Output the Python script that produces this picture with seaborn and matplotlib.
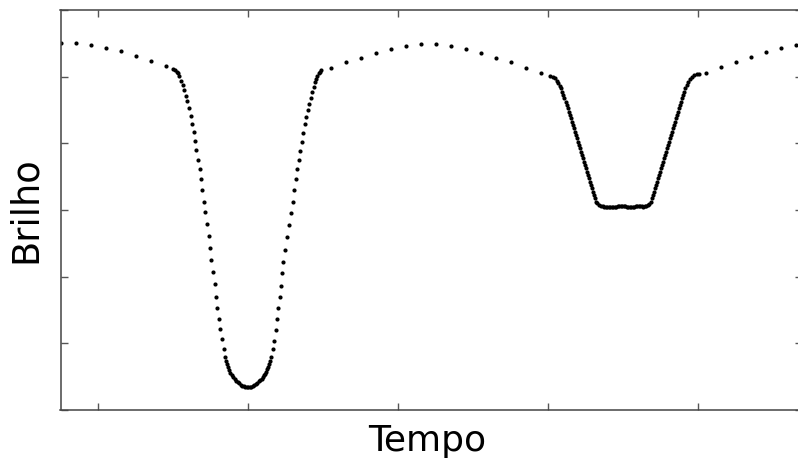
import numpy as np
import pandas as pd
import matplotlib
matplotlib.use("Agg")
import matplotlib.pyplot as plt
import seaborn as sns

sns.set_style("ticks")

# ------------------------------------------------------------------
# light curve (tempo in minutes, brilho in arbitrary units)
# ------------------------------------------------------------------

# out-of-eclipse samples (coarse cadence)
fora_tempo = [-37.3, -22.3, -7.3, 7.7, 22.7, 37.7, 52.7, 67.7,
              232.7, 247.7, 262.7, 277.7, 292.7, 307.7, 322.7, 337.7, 352.7, 367.7,
              382.7, 397.7, 412.7, 427.7, 442.7,
              607.7, 622.7, 637.7, 652.7, 667.7, 682.7, 697.7]
fora_brilho = [366.7, 367, 365, 362, 359, 354, 349, 343.7,
               342, 347.7, 352.3, 357.3, 361.3, 364.3, 365.7, 365.7, 364.3, 361.3,
               357.3, 352.3, 347.7, 342, 336.5,
               337.3, 342.7, 347.7, 353, 357.7, 362, 365]

# primary eclipse (dense cadence)
prim_tempo = [75.3, 77, 78.7, 80, 81.3, 83, 85, 86.3, 88, 89.3, 90.7, 92.7, 94, 95.7, 97, 98.3,
              100.3, 101.7, 103, 104.3, 106, 107.3, 109.3, 110.7, 112, 113.3, 115.3, 116.7, 118,
              119.3, 120.7, 122, 124, 125.7,
              127, 128, 129, 130, 131, 132, 133.5, 135, 136.5, 138, 139.5, 141, 142.5, 144, 145.5,
              147, 148.5, 150, 151.5, 153, 154.5, 156, 157.5, 159, 160.5, 162, 163.5, 165, 166,
              167, 168, 169, 170, 171, 172, 173.3,
              174.7, 176.3, 177.7, 179, 180.3, 181.7, 183, 184, 185, 187, 189, 191.3, 193, 194.7,
              196.3, 197.7, 199, 200.7, 202.3, 203.7, 205.3, 206.7, 208, 210, 211.3, 213, 214.3,
              215.7, 217, 218, 219.3, 220.7, 222, 223.3]
prim_brilho = [341, 340, 338.3, 336.7, 334.3, 329.3, 324.7, 319.7, 314.3, 308.7, 301.7, 294.3, 286.3,
               277.7, 269, 260, 250.3, 240.7, 230.7, 219.7, 208.3, 197.7, 186, 174.3, 162.3, 150.3,
               138, 126, 113.3, 101.7, 90.7, 80.7, 70.7, 61,
               52.7, 48.7, 45.7, 42.7, 40, 37.5, 35.3, 33.2, 31.2, 29.5, 28, 26.7, 25.5, 24.5, 23.8,
               23.3, 23, 22.7, 22.8, 23.2, 23.8, 24.8, 26, 27.3, 28.7, 30, 31.5, 33.2, 34.7,
               36.5, 38.5, 41, 43.5, 46, 49, 52.7,
               61, 69.3, 80, 90.7, 101.7, 112.7, 124.3, 136.7, 148, 160, 173, 185.3, 197, 208.3,
               219.7, 230.7, 241, 250.3, 259.3, 268.3, 277.3, 285.7, 293.3, 300, 306.3, 312.3, 318,
               323.3, 327.7, 331, 334.3, 336.7, 338.3, 339.7]

# secondary eclipse (dense cadence)
sec_tempo = [452, 454.7, 457, 458.7, 460.3, 462, 463.3, 464.3, 465.3, 466.3, 467.7, 468.7, 469.7,
             470.7, 471.7, 472.7, 473.7, 474.7, 475.7, 476.7, 477.7, 478.7, 479.7, 480.7, 481.7,
             482.7, 483.7, 484.7, 485.7, 486.7, 487.7, 488.7, 489.7, 490.7, 491.7, 492.7, 493.7,
             494.7, 495.7, 496.7, 498, 499.3, 501.3, 503,
             504.5, 506, 507.5, 509, 510.5, 512, 513.5, 515, 516.5, 518, 519.5, 521, 522.5, 524,
             525.5, 527, 528.5, 530, 531.5, 533, 534.5, 536, 537.5, 539, 540.5, 542, 543.5, 545,
             546.5, 548, 549.5,
             551.3, 552.7, 554, 555, 556, 557, 558, 559, 560, 561, 562, 563, 564, 565, 566, 567,
             568, 569, 570, 571, 572, 573, 574, 575, 576, 577, 578, 579, 580, 581, 582, 583, 584,
             585, 586, 587.3, 588.7, 590.3, 592, 594, 596.3, 598.7, 601]
sec_brilho = [334.3, 333.3, 331.7, 329.3, 327, 324.3, 321.7, 318.3, 315, 311.7, 308.3, 305, 301.7,
              298.3, 295, 291.7, 288.3, 285, 281.7, 278.3, 275, 271.7, 268.3, 265, 261.7,
              258.3, 255, 251.7, 248.3, 245, 241.7, 238.3, 235, 231.7, 228.3, 225, 221.7,
              218.3, 215, 211.7, 208.3, 206.7, 205, 203.8,
              203.5, 203.2, 203, 202.8, 202.7, 202.7, 202.8, 202.8, 203, 203.2, 203.5, 203.6, 203.8, 204,
              203.9, 203.6, 203.3, 203, 202.8, 202.8, 203, 203.3, 203.6, 203.8, 204, 204, 203.6, 203.3,
              203.5, 204, 205,
              205.7, 208.3, 211.7, 215, 218.3, 221.7, 225, 228.3, 231.7, 235, 238.3, 241.7, 245, 248.3,
              251.7, 255, 258.3, 261.7, 265, 268.3, 271.7, 275, 278.3, 281.7, 285, 288.3, 291.7, 295,
              298.3, 301.7, 305, 308.3, 311.7, 315, 318.3, 321.7, 325, 328.3, 331, 333, 334.7, 335.7,
              336.3]

curva = pd.DataFrame({
    "tempo": fora_tempo + prim_tempo + sec_tempo,
    "brilho": fora_brilho + prim_brilho + sec_brilho,
})

# ------------------------------------------------------------------
# plot
# ------------------------------------------------------------------

fig = plt.figure(figsize=(7.98, 4.61), dpi=100)
ax = fig.add_axes([60.5 / 798, 51 / 461, 741.5 / 798, 400 / 461])

sns.scatterplot(data=curva, x="tempo", y="brilho", color="black", s=9, linewidth=0, ax=ax)

ax.set_xlim(-37.5, 704)
ax.set_ylim(0, 400)
ax.set_xticks([0, 150, 300, 450, 600])
ax.set_yticks(np.linspace(0, 400, 7))
ax.tick_params(direction="in", length=5, width=1, color="#555555",
               top=True, right=True, labelbottom=False, labelleft=False)
for side in ax.spines.values():
    side.set_color("#444444")
    side.set_linewidth(1.1)

ax.set_xlabel("Tempo", fontsize=26, color="black")
ax.set_ylabel("Brilho", fontsize=26.5, color="black")
ax.xaxis.set_label_coords(0.495, -0.035)
ax.yaxis.set_label_coords(-0.022, 0.5)

fig.savefig("out.png", dpi=100)
